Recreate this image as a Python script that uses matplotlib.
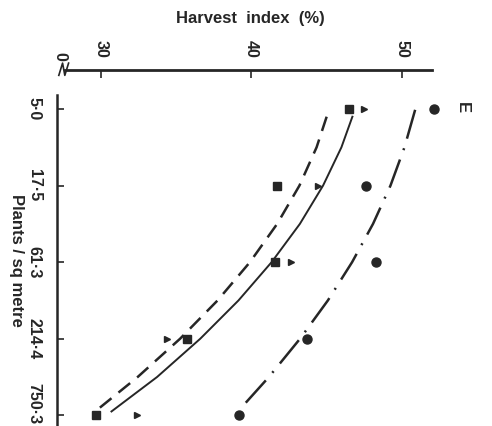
import matplotlib
matplotlib.use('Agg')
import matplotlib.pyplot as plt
from matplotlib.transforms import ScaledTranslation

plt.rcParams['font.family'] = ['Liberation Sans', 'DejaVu Sans']
plt.rcParams['font.weight'] = 'bold'

ink = '#262626'

# plant densities, plotted at equal spacing (log series)
densities = ['5·0', '17·5', '61·3', '214·4', '750·3']
rows = [0, 1, 2, 3, 4]

# observed harvest index (%) for each density
hi_square = [46.5, 41.7, 41.6, 35.7, 29.7]
hi_triangle = [47.5, 44.4, 42.6, 34.4, 32.4]
hi_circle = [52.1, 47.6, 48.3, 43.7, 39.2]

# fitted response curves (harvest index along the density axis)
fit_solid_rows = [0.1, 0.5, 1, 1.5, 2, 2.5, 3, 3.5, 3.95]
fit_solid = [46.71, 45.98, 44.76, 43.22, 41.34, 39.14, 36.60, 33.73, 30.70]
fit_dashed_rows = [0.1, 0.5, 1, 1.5, 2, 2.5, 3, 3.5, 3.9]
fit_dashed = [45.0, 44.33, 43.19, 41.71, 39.90, 37.75, 35.26, 32.44, 29.93]
fit_dashdot_rows = [0.01, 0.5, 1, 1.5, 2, 2.5, 3, 3.5, 3.92]
fit_dashdot = [50.88, 50.17, 49.24, 48.08, 46.69, 45.08, 43.23, 41.16, 39.24]

fig = plt.figure(figsize=(4.92, 4.26), dpi=100)
ax = fig.add_axes([57 / 492, 0, (432 - 57) / 492, (426 - 70) / 426])
ax.set_xlim(27.08, 52.0)
ax.set_ylim(4.14, -0.51)

ax.plot(fit_solid, fit_solid_rows, '-', color=ink, lw=1.4)
ax.plot(fit_dashed, fit_dashed_rows, color=ink, lw=1.8, dashes=(6, 3.6))
ax.plot(fit_dashdot, fit_dashdot_rows, color=ink, lw=1.8,
        dashes=(12, 4, 0.8, 4))

ax.plot(hi_square, rows, 's', ms=5.5, color=ink, ls='none', clip_on=False)
ax.plot(hi_triangle, rows, '>', ms=5, color=ink, ls='none', clip_on=False)
ax.plot(hi_circle, rows, 'o', ms=6.5, color=ink, ls='none', clip_on=False)

# axes: harvest index along the top, density down the left
for side in ['bottom', 'right']:
    ax.spines[side].set_visible(False)
ax.spines['top'].set_linewidth(2.0)
ax.spines['top'].set_color(ink)
ax.spines['top'].set_bounds(27.6, 52.0)
ax.spines['left'].set_linewidth(1.8)
ax.spines['left'].set_color(ink)
ax.spines['left'].set_bounds(-0.18, 4.14)

ax.xaxis.tick_top()
ax.set_xticks([30, 40, 50])
ax.set_xticklabels(['30', '40', '50'], rotation=-90, fontsize=11.5,
                   fontweight='bold', va='bottom', ha='center')
ax.tick_params(axis='x', direction='in', length=6, width=1.2, pad=9,
               colors=ink)

ax.set_yticks(rows)
ax.set_yticklabels(densities, rotation=-90, fontsize=11.5,
                   fontweight='bold', va='center', ha='right')
ax.tick_params(axis='y', direction='in', length=5, width=1.2, pad=11,
               colors=ink)

# last density label sits a little above its tick so it stays on the page
last = ax.get_yticklabels()[-1]
last.set_transform(last.get_transform() +
                   ScaledTranslation(0, 8.5 / 72, fig.dpi_scale_trans))

# broken-axis zero and zigzag
ax.text(27.26, -0.51 - 0.12, '0', rotation=-90, fontsize=11.5,
        fontweight='bold', ha='center', va='bottom', color=ink,
        clip_on=False)
ax.plot([27.2, 27.45, 27.6, 27.85], [-0.44, -0.60, -0.44, -0.60],
        color=ink, lw=1.2, clip_on=False)

fig.text(250 / 492, 1 - 18 / 426, 'Harvest  index  (%)', ha='center',
         va='center', fontsize=12, fontweight='bold', color=ink)
fig.text(16 / 492, 1 - 260 / 426, 'Plants / sq metre', rotation=-90,
         ha='center', va='center', fontsize=12, fontweight='bold', color=ink)
fig.text(462 / 492, 1 - 108 / 426, 'E', rotation=-90, ha='center',
         va='center', fontsize=12, fontweight='bold', color=ink)

fig.savefig('out.png', dpi=100)
plt.close(fig)
